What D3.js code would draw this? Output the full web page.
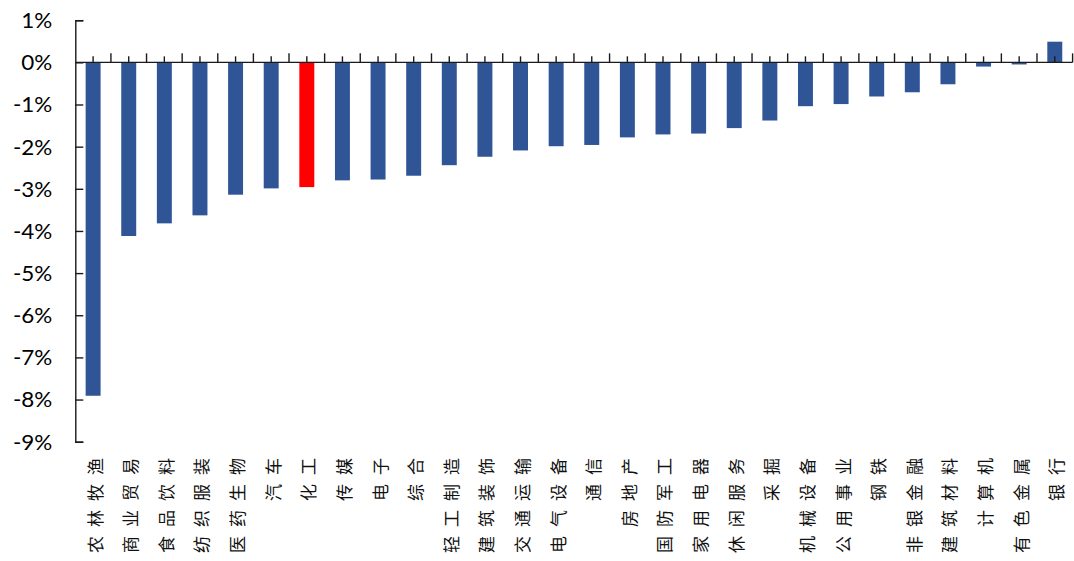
<!DOCTYPE html>
<html><head><meta charset="utf-8">
<script src="https://cdn.jsdelivr.net/npm/d3@7"></script>
<style>
html,body{margin:0;padding:0;background:#fff;}
svg{display:block;}
</style></head>
<body>
<svg id="chart" width="1074" height="561"></svg>
<script>
const categories = ["农林牧渔","商业贸易","食品饮料","纺织服装","医药生物","汽车","化工","传媒","电子","综合",
  "轻工制造","建筑装饰","交通运输","电气设备","通信","房地产","国防军工","家用电器","休闲服务","采掘",
  "机械设备","公用事业","钢铁","非银金融","建筑材料","计算机","有色金属","银行"];
const values = [-7.91,-4.12,-3.82,-3.63,-3.14,-2.99,-2.96,-2.80,-2.78,-2.69,
  -2.44,-2.24,-2.09,-1.99,-1.96,-1.78,-1.71,-1.69,-1.56,-1.38,
  -1.04,-0.99,-0.81,-0.71,-0.52,-0.10,-0.05,0.49];
const highlight = ["化工"];
const yTicks = [1,0,-1,-2,-3,-4,-5,-6,-7,-8,-9];

const svg = d3.select("#chart");
const y = d3.scaleLinear().domain([-9,1]).range([441.7,20.2]);
const x = d3.scaleBand().domain(categories).range([75.3,1072.6]).paddingInner(0.58).paddingOuter(0.29);
const step = x.step();
const x0 = x.range()[0];

// bars
svg.append("g").selectAll("rect").data(categories).join("rect")
  .attr("x", d => x(d))
  .attr("width", x.bandwidth())
  .attr("y", (d,i) => y(Math.max(0, values[i])))
  .attr("height", (d,i) => Math.abs(y(values[i]) - y(0)))
  .attr("fill", d => highlight.includes(d) ? "#FF0000" : "#2F5597");

// y axis
const sx = 1.07;
const yAxis = d3.axisLeft(y).tickValues(yTicks).tickFormat(d => d + "%")
  .tickSizeInner(-8).tickSizeOuter(-8).tickPadding(23);
const gy = svg.append("g").attr("transform", `translate(${x0},0)`).call(yAxis);
gy.selectAll("path,line").attr("stroke","#1a1a1a").attr("stroke-width",1.4);
gy.selectAll("text").attr("font-family","Lato, 'Open Sans', sans-serif")
  .attr("font-size", 21).attr("fill","#000").attr("dy","0.35em")
  .attr("transform",`scale(${sx},1)`).attr("x", -23/sx);

// x axis (zero line)
const gx = svg.append("g");
gx.append("line").attr("x1", x0).attr("x2", x.range()[1]).attr("y1", y(0)).attr("y2", y(0))
  .attr("stroke","#1a1a1a").attr("stroke-width",1.4);
const bounds = d3.range(categories.length + 1).map(i => x0 + i*step);
gx.selectAll("line.b").data(bounds.slice(1)).join("line").attr("class","b")
  .attr("x1", d => d).attr("x2", d => d).attr("y1", y(0)).attr("y2", y(0) - 9)
  .attr("stroke","#1a1a1a").attr("stroke-width",1.4);
gx.selectAll("line.c").data(categories).join("line").attr("class","c")
  .attr("x1", d => x(d) + x.bandwidth()/2).attr("x2", d => x(d) + x.bandwidth()/2)
  .attr("y1", y(0)).attr("y2", y(0) - 6)
  .attr("stroke","#1a1a1a").attr("stroke-width",1.4);

// category labels (rotated)
const ls = 9;
svg.append("g").selectAll("text").data(categories).join("text")
  .attr("transform", d => `translate(${x(d) + x.bandwidth()/2 + 1},${458 - ls}) rotate(-90)`)
  .attr("text-anchor","end")
  .attr("dominant-baseline","central")
  .attr("font-family","'Noto Sans CJK SC', sans-serif")
  .attr("font-size", 17)
  .attr("letter-spacing", ls + "px")
  .attr("fill","#111")
  .text(d => d);
</script>
</body></html>
